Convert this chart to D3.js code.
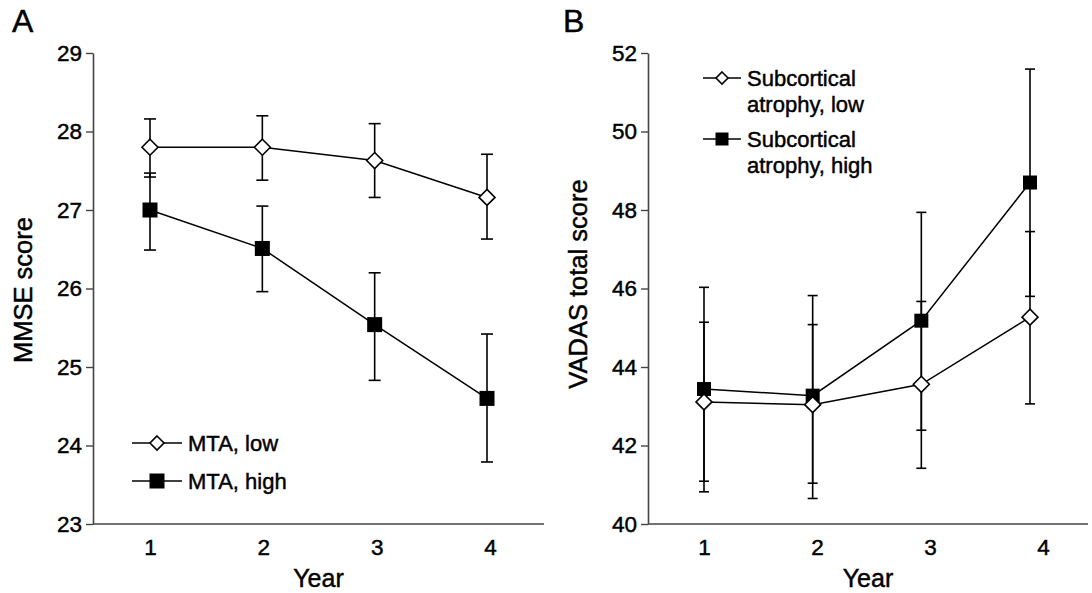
<!DOCTYPE html>
<html>
<head>
<meta charset="utf-8">
<script src="https://cdn.jsdelivr.net/npm/d3@7"></script>
<style>
  html, body { margin: 0; padding: 0; background: #fff; }
  svg { display: block; font-family: "Liberation Sans", Arial, Helvetica, sans-serif; }
  .txt { stroke: #000; stroke-width: 0.45px; paint-order: stroke; }
</style>
</head>
<body>
<svg id="chart" width="1092" height="593"></svg>
<script>
// ---------- data ----------
const years = [1, 2, 3, 4];

const mmseTicks = [23, 24, 25, 26, 27, 28, 29];
const mmseLow = [27.8, 27.8, 27.63, 27.16];
const mmseLowUpper = [28.16, 28.2, 28.1, 27.71];
const mmseLowLower = [27.42, 27.38, 27.16, 26.63];
const mmseHigh = [27.0, 26.51, 25.54, 24.6];
const mmseHighUpper = [27.47, 27.05, 26.2, 25.42];
const mmseHighLower = [26.49, 25.96, 24.83, 23.79];

const vadasTicks = [40, 42, 44, 46, 48, 50, 52];
const vadasLow = [43.11, 43.04, 43.56, 45.27];
const vadasLowUpper = [45.14, 45.08, 45.67, 47.45];
const vadasLowLower = [41.09, 41.04, 41.42, 43.06];
const vadasHigh = [43.44, 43.27, 45.18, 48.70];
const vadasHighUpper = [46.03, 45.82, 47.94, 51.59];
const vadasHighLower = [40.82, 40.65, 42.39, 45.80];

const legendA = [["MTA, low"], ["MTA, high"]];
const legendB = [["Subcortical", "atrophy, low"], ["Subcortical", "atrophy, high"]];

// ---------- layout ----------
const svg = d3.select("#chart");

function drawPanel(cfg) {
  const g = svg.append("g");
  const x = d3.scaleLinear().domain([1, 4]).range([cfg.mark0, cfg.mark1]);
  const xLab = d3.scaleLinear().domain([1, 4]).range([cfg.lab0, cfg.lab1]);
  const y = d3.scaleLinear().domain(cfg.yDomain).range([cfg.yBottom, cfg.yTop]);

  // panel letter
  g.append("text").attr("class", "txt").attr("x", cfg.letterX).attr("y", 32)
    .attr("font-size", 32).attr("fill", "#000").text(cfg.letter);

  // y axis
  const ya = g.append("g").attr("transform", `translate(${cfg.axisX},0)`)
    .call(d3.axisLeft(y).tickValues(cfg.yTicks).tickFormat(d3.format("d"))
      .tickSize(7).tickSizeOuter(0).tickPadding(4));
  ya.select(".domain").attr("stroke", "#444").attr("stroke-width", 1.6);
  ya.selectAll(".tick line").attr("stroke", "#444").attr("stroke-width", 1.4);
  ya.selectAll("text").attr("class", "txt").attr("font-size", 22.5).attr("fill", "#000")
    .attr("font-family", "Liberation Sans, Arial, sans-serif");

  // x axis line
  g.append("line").attr("x1", cfg.axisX).attr("x2", cfg.axisEnd)
    .attr("y1", y(cfg.yDomain[0])).attr("y2", y(cfg.yDomain[0]))
    .attr("stroke", "#444").attr("stroke-width", 1.6);
  const xa = g.append("g").attr("transform", `translate(0,${y(cfg.yDomain[0])})`)
    .call(d3.axisBottom(xLab).tickValues(years).tickFormat(d3.format("d")).tickSize(0).tickPadding(15));
  xa.select(".domain").remove();
  xa.selectAll("text").attr("class", "txt").attr("font-size", 22.5).attr("fill", "#000")
    .attr("font-family", "Liberation Sans, Arial, sans-serif");

  // axis titles
  g.append("text").attr("class", "txt").attr("x", (cfg.axisX + cfg.axisEnd) / 2).attr("y", 587)
    .attr("text-anchor", "middle").attr("font-size", 25).attr("fill", "#000").text("Year");
  g.append("text").attr("class", "txt").attr("transform", `translate(${cfg.titleX},${cfg.titleY}) rotate(-90)`)
    .attr("text-anchor", "middle").attr("font-size", 25.5).attr("fill", "#000").text(cfg.yTitle);

  const line = d3.line().x((d, i) => x(years[i])).y(d => y(d));

  const series = [
    { vals: cfg.high, up: cfg.highUp, lo: cfg.highLo, shape: "square" },
    { vals: cfg.low, up: cfg.lowUp, lo: cfg.lowLo, shape: "diamond" }
  ];

  // lines
  series.forEach(s => {
    g.append("path").datum(s.vals).attr("d", line)
      .attr("fill", "none").attr("stroke", "#000").attr("stroke-width", 1.5);
  });
  // error bars
  series.forEach(s => {
    years.forEach((yr, i) => {
      const cx = x(yr);
      g.append("line").attr("x1", cx).attr("x2", cx)
        .attr("y1", y(s.up[i])).attr("y2", y(s.lo[i]))
        .attr("stroke", "#000").attr("stroke-width", 1.6);
      [s.up[i], s.lo[i]].forEach(v => {
        g.append("line").attr("x1", cx - cfg.cap / 2).attr("x2", cx + cfg.cap / 2)
          .attr("y1", y(v)).attr("y2", y(v))
          .attr("stroke", "#000").attr("stroke-width", 1.6);
      });
    });
  });
  // markers
  function marker(sel, shape, cx, cy, size) {
    if (shape === "square") {
      sel.append("rect").attr("x", cx - size / 2).attr("y", cy - size / 2)
        .attr("width", size).attr("height", size).attr("fill", "#000");
    } else {
      const r = size / 2;
      sel.append("path")
        .attr("d", `M${cx},${cy - r}L${cx + r},${cy}L${cx},${cy + r}L${cx - r},${cy}Z`)
        .attr("fill", "#fff").attr("stroke", "#000").attr("stroke-width", 1.6);
    }
  }
  series.forEach(s => {
    s.vals.forEach((v, i) => marker(g, s.shape, x(years[i]), y(v), s.shape === "square" ? cfg.sq : cfg.dm));
  });

  // legend
  const lshapes = ["diamond", "square"];
  cfg.legend.forEach((lines, k) => {
    const ly = cfg.legY[k];
    g.append("line").attr("x1", cfg.legX0).attr("x2", cfg.legX1).attr("y1", ly).attr("y2", ly)
      .attr("stroke", "#000").attr("stroke-width", 1.5);
    marker(g, lshapes[k], (cfg.legX0 + cfg.legX1) / 2, ly, lshapes[k] === "square" ? cfg.legSq : cfg.legDm);
    lines.forEach((t, j) => {
      g.append("text").attr("class", "txt").attr("x", cfg.legTextX).attr("y", ly + j * cfg.legLine)
        .attr("dy", "0.36em").attr("font-size", 22).attr("fill", "#000").text(t);
    });
  });
}

drawPanel({
  letter: "A", letterX: 12,
  axisX: 93, axisEnd: 544, mark0: 150, mark1: 487, lab0: 150, lab1: 490,
  yDomain: [23, 29], yTop: 53, yBottom: 524, yTicks: mmseTicks,
  yTitle: "MMSE score", titleX: 32, titleY: 290,
  low: mmseLow, lowUp: mmseLowUpper, lowLo: mmseLowLower,
  high: mmseHigh, highUp: mmseHighUpper, highLo: mmseHighLower,
  cap: 12, sq: 15, dm: 16,
  legend: legendA, legY: [443, 481], legX0: 132, legX1: 182, legTextX: 188, legLine: 0,
  legSq: 15, legDm: 14
});

drawPanel({
  letter: "B", letterX: 563,
  axisX: 648, axisEnd: 1088, mark0: 704, mark1: 1030, lab0: 704, lab1: 1043,
  yDomain: [40, 52], yTop: 53, yBottom: 524, yTicks: vadasTicks,
  yTitle: "VADAS total score", titleX: 587, titleY: 284,
  low: vadasLow, lowUp: vadasLowUpper, lowLo: vadasLowLower,
  high: vadasHigh, highUp: vadasHighUpper, highLo: vadasHighLower,
  cap: 10, sq: 14, dm: 16,
  legend: legendB, legY: [78, 139], legX0: 703, legX1: 741, legTextX: 747, legLine: 26,
  legSq: 13, legDm: 12
});
</script>
</body>
</html>
